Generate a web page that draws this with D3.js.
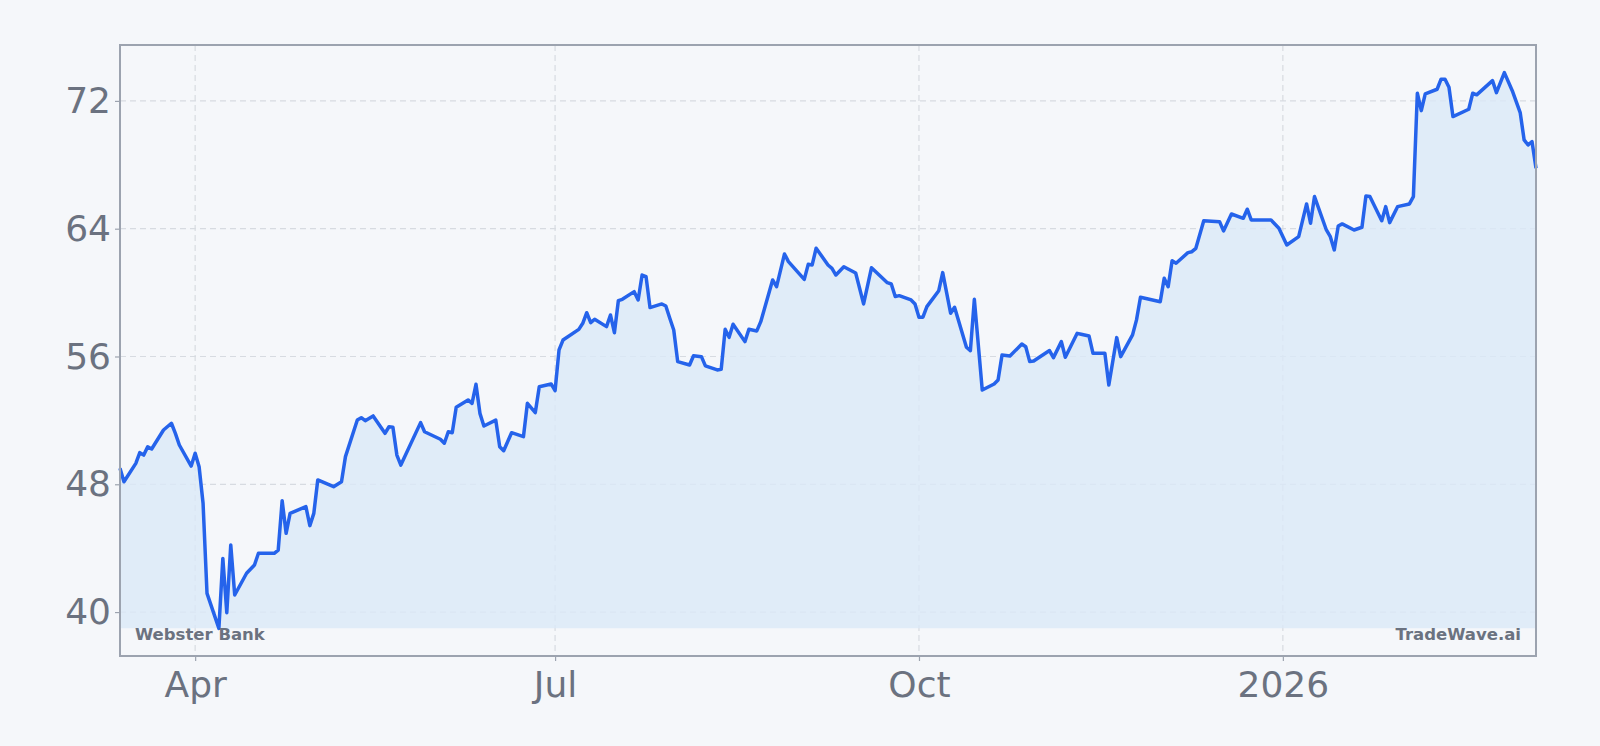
<!DOCTYPE html>
<html>
<head>
<meta charset="utf-8">
<script src="https://cdn.jsdelivr.net/npm/d3@7"></script>
<style>
    html, body { margin: 0; padding: 0; background: #f5f7fa; }
    svg { display: block; font-family: "DejaVu Sans", sans-serif; }
</style>
</head>
<body>
<svg width="1600" height="746"></svg>
<script>
// price series
var dates = [
    "2025-03-13", "2025-03-14", "2025-03-17", "2025-03-18", "2025-03-19", "2025-03-20", "2025-03-21", "2025-03-24",
    "2025-03-26", "2025-03-27", "2025-03-28", "2025-03-31", "2025-04-01", "2025-04-02", "2025-04-03", "2025-04-04",
    "2025-04-07", "2025-04-08", "2025-04-09", "2025-04-10", "2025-04-11", "2025-04-14", "2025-04-16", "2025-04-17",
    "2025-04-21", "2025-04-22", "2025-04-23", "2025-04-24", "2025-04-25", "2025-04-29", "2025-04-30", "2025-05-01",
    "2025-05-02", "2025-05-06", "2025-05-08", "2025-05-09", "2025-05-12", "2025-05-13", "2025-05-14", "2025-05-16",
    "2025-05-19", "2025-05-20", "2025-05-21", "2025-05-22", "2025-05-23", "2025-05-28", "2025-05-29", "2025-06-02",
    "2025-06-03", "2025-06-04", "2025-06-05", "2025-06-06", "2025-06-09", "2025-06-10", "2025-06-11", "2025-06-12",
    "2025-06-13", "2025-06-16", "2025-06-17", "2025-06-18", "2025-06-20", "2025-06-23", "2025-06-24", "2025-06-26",
    "2025-06-27", "2025-06-30", "2025-07-01", "2025-07-02", "2025-07-03", "2025-07-07", "2025-07-08", "2025-07-09",
    "2025-07-10", "2025-07-11", "2025-07-14", "2025-07-15", "2025-07-16", "2025-07-17", "2025-07-18", "2025-07-21",
    "2025-07-22", "2025-07-23", "2025-07-24", "2025-07-25", "2025-07-28", "2025-07-29", "2025-07-30", "2025-07-31",
    "2025-08-01", "2025-08-04", "2025-08-05", "2025-08-07", "2025-08-08", "2025-08-11", "2025-08-12", "2025-08-13",
    "2025-08-14", "2025-08-15", "2025-08-18", "2025-08-19", "2025-08-21", "2025-08-22", "2025-08-25", "2025-08-26",
    "2025-08-28", "2025-08-29", "2025-09-02", "2025-09-03", "2025-09-04", "2025-09-05", "2025-09-08", "2025-09-09",
    "2025-09-10", "2025-09-12", "2025-09-15", "2025-09-17", "2025-09-19", "2025-09-23", "2025-09-24", "2025-09-25",
    "2025-09-26", "2025-09-29", "2025-09-30", "2025-10-01", "2025-10-02", "2025-10-03", "2025-10-06", "2025-10-07",
    "2025-10-09", "2025-10-10", "2025-10-13", "2025-10-14", "2025-10-15", "2025-10-17", "2025-10-20", "2025-10-21",
    "2025-10-22", "2025-10-24", "2025-10-27", "2025-10-28", "2025-10-29", "2025-10-30", "2025-11-03", "2025-11-04",
    "2025-11-06", "2025-11-07", "2025-11-10", "2025-11-11", "2025-11-13", "2025-11-14", "2025-11-17", "2025-11-18",
    "2025-11-20", "2025-11-21", "2025-11-24", "2025-11-25", "2025-11-26", "2025-12-01", "2025-12-02", "2025-12-03",
    "2025-12-04", "2025-12-05", "2025-12-08", "2025-12-09", "2025-12-10", "2025-12-12", "2025-12-16", "2025-12-17",
    "2025-12-19", "2025-12-22", "2025-12-23", "2025-12-24", "2025-12-29", "2025-12-31", "2026-01-02", "2026-01-05",
    "2026-01-07", "2026-01-08", "2026-01-09", "2026-01-12", "2026-01-13", "2026-01-14", "2026-01-15", "2026-01-16",
    "2026-01-19", "2026-01-21", "2026-01-22", "2026-01-23", "2026-01-26", "2026-01-27", "2026-01-28", "2026-01-30",
    "2026-02-02", "2026-02-03", "2026-02-04", "2026-02-05", "2026-02-06", "2026-02-09", "2026-02-10", "2026-02-11",
    "2026-02-12", "2026-02-13", "2026-02-17", "2026-02-18", "2026-02-19", "2026-02-23", "2026-02-24", "2026-02-26",
    "2026-02-28", "2026-03-02", "2026-03-03", "2026-03-04", "2026-03-05", "2026-03-06"
];
var prices = [
    49.0, 48.16, 49.31, 49.98, 49.83, 50.35, 50.21, 51.4,
    51.82, 51.19, 50.46, 49.14, 49.94, 49.1, 46.81, 41.17,
    38.98, 43.36, 39.96, 44.2, 41.07, 42.43, 42.95, 43.68,
    43.68, 43.88, 46.97, 44.93, 46.18, 46.6, 45.41, 46.18,
    48.27, 47.85, 48.16, 49.73, 52.02, 52.17, 51.98, 52.28,
    51.19, 51.6, 51.57, 49.83, 49.2, 51.86, 51.29, 50.82,
    50.57, 51.29, 51.23, 52.82, 53.28, 53.07, 54.26, 52.44,
    51.65, 52.02, 50.35, 50.1, 51.23, 50.98, 53.07, 52.49,
    54.11, 54.28, 53.86, 56.41, 57.03, 57.7, 58.08, 58.74,
    58.12, 58.33, 57.87, 58.6, 57.49, 59.5, 59.58, 60.06,
    59.54, 61.1, 61.0, 59.06, 59.29, 59.16, 58.39, 57.66,
    55.68, 55.47, 56.05, 55.99, 55.41, 55.16, 55.2, 57.7,
    57.2, 58.02, 56.93, 57.7, 57.6, 58.18, 60.79, 60.37,
    62.42, 61.94, 60.83, 61.77, 61.73, 62.78, 61.73, 61.52,
    61.1, 61.62, 61.23, 59.29, 61.56, 60.62, 60.54, 59.75,
    59.81, 59.54, 59.29, 58.46, 58.46, 59.12, 60.12, 61.25,
    58.71, 59.08, 56.58, 56.37, 59.58, 53.9, 54.28, 54.53,
    56.09, 56.03, 56.78, 56.61, 55.68, 55.72, 56.37, 55.93,
    56.93, 55.95, 57.45, 57.39, 57.28, 56.2, 56.2, 54.22,
    57.18, 55.99, 57.35, 58.29, 59.71, 59.43, 60.9, 60.37,
    62.0, 61.84, 62.5, 62.56, 62.77, 64.5, 64.44, 63.86,
    64.92, 64.65, 65.22, 64.55, 64.55, 64.03, 62.98, 63.5,
    65.55, 64.34, 66.01, 63.92, 63.5, 62.67, 64.17, 64.3,
    63.92, 64.09, 66.05, 66.01, 64.5, 65.38, 64.38, 65.38,
    65.55, 66.01, 72.48, 71.39, 72.44, 72.73, 73.36, 73.36,
    72.86, 71.02, 71.48, 72.48, 72.38, 73.27, 72.52, 73.77,
    72.64, 71.27, 69.56, 69.24, 69.45, 67.79
];
var yTicks = [40, 48, 56, 64, 72];
var yDomain = [37.25, 75.5];
var xTickDates = ["2025-04-01", "2025-07-01", "2025-10-01", "2026-01-01"];
var xTickLabels = ["Apr", "Jul", "Oct", "2026"];
var company = "Webster Bank",
    brand = "TradeWave.ai";

var parseDate = d3.timeParse("%Y-%m-%d");

var svg = d3.select("svg"),
    margin = {top: 45, right: 64, bottom: 90, left: 120},
    width = +svg.attr("width") - margin.left - margin.right,
    height = +svg.attr("height") - margin.top - margin.bottom;

var data = dates.map(function (d, i) {
    return {date: parseDate(d), value: prices[i]};
});

var x = d3.scaleTime()
    .domain(d3.extent(data, function (d) { return d.date; }))
    .range([0, width]);

var y = d3.scaleLinear()
    .domain(yDomain)
    .range([height, 0]);

var g = svg.append("g").attr("transform", "translate(" + margin.left + "," + margin.top + ")");

// grid
g.append("g").selectAll("line")
    .data(yTicks)
    .enter().append("line")
    .attr("x1", 0)
    .attr("x2", width)
    .attr("y1", function (d) { return y(d); })
    .attr("y2", function (d) { return y(d); })
    .attr("stroke", "#d7dbe1")
    .attr("stroke-width", 1.2)
    .attr("stroke-dasharray", "6,4");

g.append("g").selectAll("line")
    .data(xTickDates)
    .enter().append("line")
    .attr("x1", function (d) { return x(parseDate(d)); })
    .attr("x2", function (d) { return x(parseDate(d)); })
    .attr("y1", 0)
    .attr("y2", height)
    .attr("stroke", "#d7dbe1")
    .attr("stroke-width", 1.2)
    .attr("stroke-dasharray", "6,4");

// area down to the lowest close, then the line
var lowest = d3.min(data, function (d) { return d.value; });

g.append("path")
    .datum(data)
    .attr("fill", "#dbe8f7")
    .attr("fill-opacity", 0.8)
    .attr("d", d3.area()
        .x(function (d) { return x(d.date); })
        .y0(y(lowest))
        .y1(function (d) { return y(d.value); }));

g.append("path")
    .datum(data)
    .attr("fill", "none")
    .attr("stroke", "#2563eb")
    .attr("stroke-width", 3.5)
    .attr("stroke-linejoin", "round")
    .attr("d", d3.line()
        .x(function (d) { return x(d.date); })
        .y(function (d) { return y(d.value); }));

// axes
var yAxis = g.append("g")
    .call(d3.axisLeft(y).tickValues(yTicks).tickSize(5).tickPadding(4).tickSizeOuter(0));
var xAxis = g.append("g")
    .attr("transform", "translate(0," + height + ")")
    .call(d3.axisBottom(x)
        .tickValues(xTickDates.map(parseDate))
        .tickFormat(function (d, i) { return xTickLabels[i]; })
        .tickSize(5).tickPadding(10).tickSizeOuter(0));

[yAxis, xAxis].forEach(function (a) {
    a.select(".domain").remove();
    a.selectAll(".tick line").attr("stroke", "#9ca3af").attr("stroke-width", 1.2);
    a.selectAll(".tick text")
        .attr("fill", "#6b7280")
        .style("font-size", "36px")
        .style("font-family", "DejaVu Sans, sans-serif");
});

// frame
g.append("rect")
    .attr("width", width)
    .attr("height", height)
    .attr("fill", "none")
    .attr("stroke", "#9ca3af")
    .attr("stroke-width", 2);

g.append("text")
    .attr("x", 15)
    .attr("y", height - 16)
    .attr("fill", "#6b7280")
    .style("font-size", "16.5px")
    .style("font-weight", "bold")
    .text(company);

g.append("text")
    .attr("x", width - 15)
    .attr("y", height - 16)
    .attr("text-anchor", "end")
    .attr("fill", "#6b7280")
    .style("font-size", "16.5px")
    .style("font-weight", "bold")
    .text(brand);
</script>
</body>
</html>
